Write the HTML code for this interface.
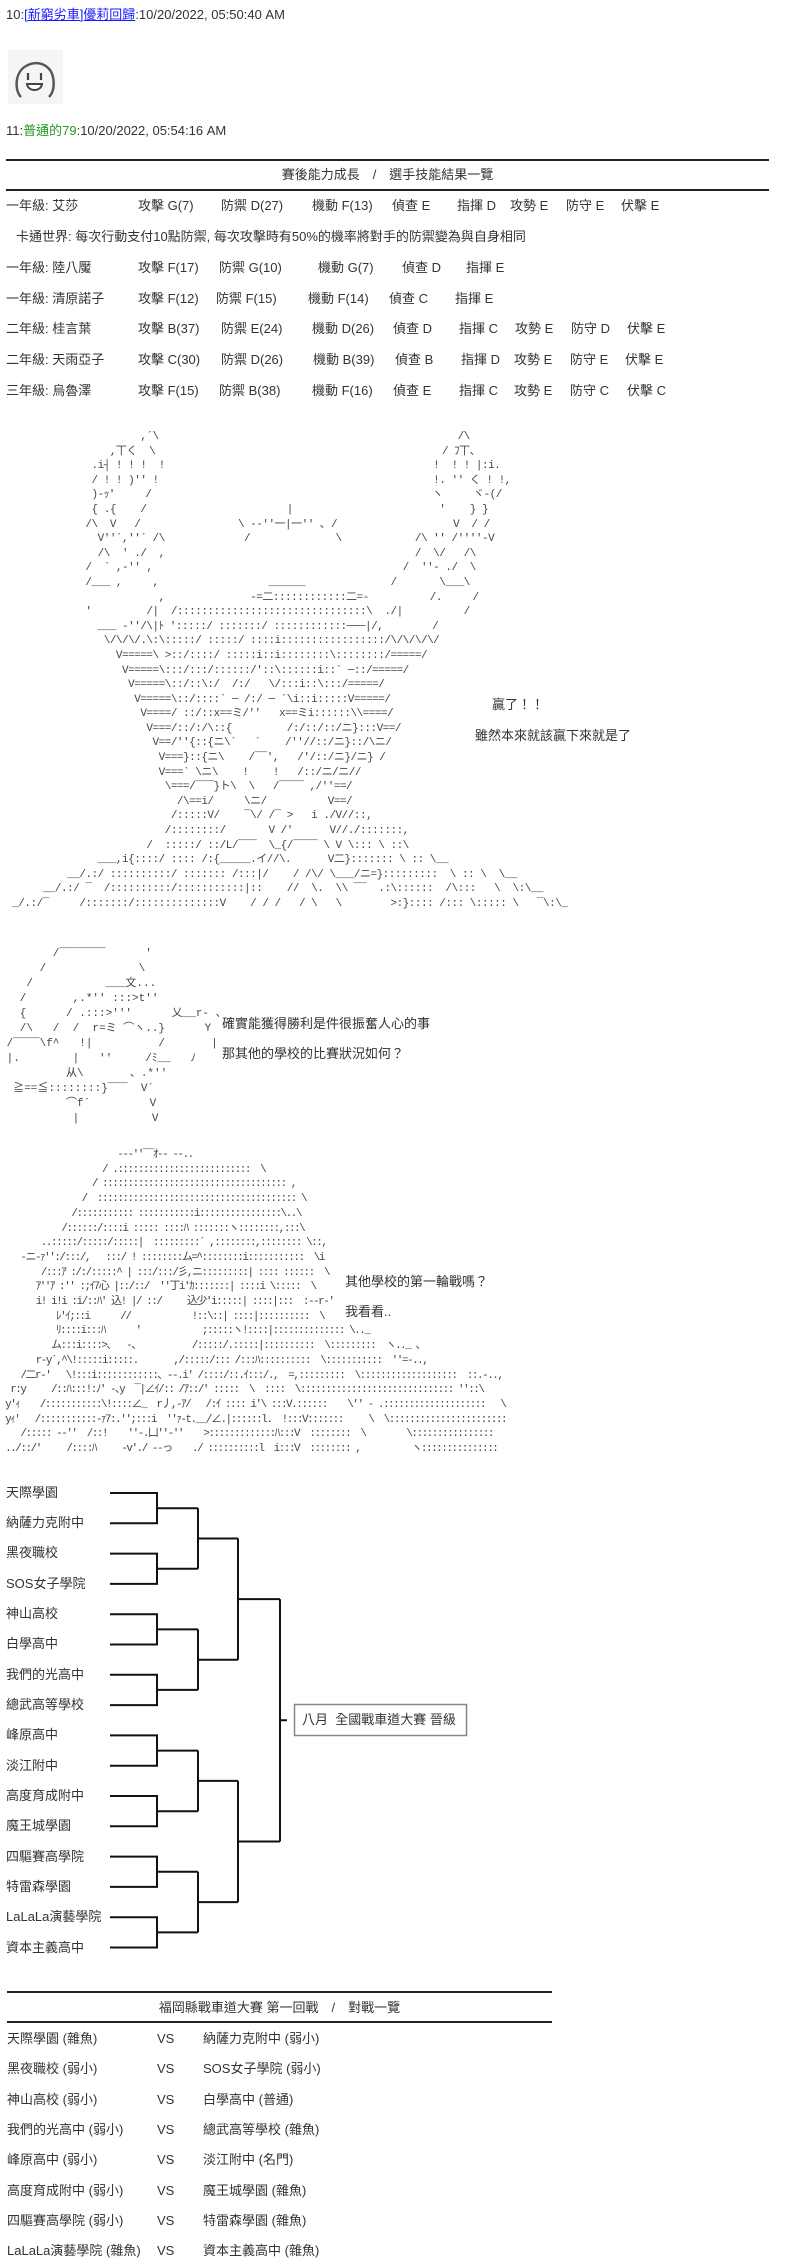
<!DOCTYPE html>
<html><head><meta charset="utf-8">
<style>
html,body{margin:0;padding:0;background:#fff;}
body{width:800px;height:2256px;position:relative;overflow:hidden;font-family:"Liberation Sans","Noto Sans CJK TC",sans-serif;font-size:13px;color:#333;}
.t{position:absolute;white-space:nowrap;line-height:16px;}
.rule{position:absolute;height:2px;background:#222;}
pre{position:absolute;margin:0;font-family:"Liberation Mono","Noto Sans CJK JP",monospace;font-size:11px;color:#444;}
</style></head><body>

<div class="t" style="left:6px;top:7px;">10:<span style="color:#1a1aff;text-decoration:underline;">[新窮劣車]優莉回歸</span>:10/20/2022, 05:50:40 AM</div>

<svg style="position:absolute;left:8px;top:50px" width="55" height="54" viewBox="0 0 55 54">
<rect width="55" height="54" fill="#f5f5f5"/>
<path d="M13 47 C6 40 7 22 18 16 C25 12 33 12 39 17 C47 23 48 40 41 47" fill="none" stroke="#555" stroke-width="2.4"/>
<line x1="20" y1="23" x2="20" y2="30" stroke="#444" stroke-width="2.2"/>
<line x1="33" y1="23" x2="33" y2="30" stroke="#444" stroke-width="2.2"/>
<path d="M19 34 H34 C33 42 20 42 19 34 Z" fill="#fff" stroke="#444" stroke-width="2"/>
</svg>

<div class="t" style="left:6px;top:123px;">11:<span style="color:#229922;">普通的79</span>:10/20/2022, 05:54:16 AM</div>

<div class="rule" style="left:6px;width:763px;top:159px;"></div>
<div class="t" style="left:6px;width:763px;text-align:center;top:167px;">賽後能力成長　/　選手技能結果一覽</div>
<div class="rule" style="left:6px;width:763px;top:189px;"></div>

<div class="t" style="left:6px;top:198px;">一年級: 艾莎</div>
<div class="t" style="left:138px;top:198px;">攻擊 G(7)</div>
<div class="t" style="left:221px;top:198px;">防禦 D(27)</div>
<div class="t" style="left:312px;top:198px;">機動 F(13)</div>
<div class="t" style="left:392px;top:198px;">偵查 E</div>
<div class="t" style="left:457px;top:198px;">指揮 D</div>
<div class="t" style="left:510px;top:198px;">攻勢 E</div>
<div class="t" style="left:566px;top:198px;">防守 E</div>
<div class="t" style="left:621px;top:198px;">伏擊 E</div>

<div class="t" style="left:16px;top:229px;">卡通世界: 每次行動支付10點防禦, 每次攻擊時有50%的機率將對手的防禦變為與自身相同</div>

<div class="t" style="left:6px;top:260px;">一年級: 陸八魘</div>
<div class="t" style="left:138px;top:260px;">攻擊 F(17)</div>
<div class="t" style="left:219px;top:260px;">防禦 G(10)</div>
<div class="t" style="left:318px;top:260px;">機動 G(7)</div>
<div class="t" style="left:402px;top:260px;">偵查 D</div>
<div class="t" style="left:466px;top:260px;">指揮 E</div>

<div class="t" style="left:6px;top:291px;">一年級: 清原諾子</div>
<div class="t" style="left:138px;top:291px;">攻擊 F(12)</div>
<div class="t" style="left:216px;top:291px;">防禦 F(15)</div>
<div class="t" style="left:308px;top:291px;">機動 F(14)</div>
<div class="t" style="left:389px;top:291px;">偵查 C</div>
<div class="t" style="left:455px;top:291px;">指揮 E</div>

<div class="t" style="left:6px;top:321px;">二年級: 桂言葉</div>
<div class="t" style="left:138px;top:321px;">攻擊 B(37)</div>
<div class="t" style="left:221px;top:321px;">防禦 E(24)</div>
<div class="t" style="left:312px;top:321px;">機動 D(26)</div>
<div class="t" style="left:393px;top:321px;">偵查 D</div>
<div class="t" style="left:459px;top:321px;">指揮 C</div>
<div class="t" style="left:515px;top:321px;">攻勢 E</div>
<div class="t" style="left:571px;top:321px;">防守 D</div>
<div class="t" style="left:627px;top:321px;">伏擊 E</div>

<div class="t" style="left:6px;top:352px;">二年級: 天雨亞子</div>
<div class="t" style="left:138px;top:352px;">攻擊 C(30)</div>
<div class="t" style="left:221px;top:352px;">防禦 D(26)</div>
<div class="t" style="left:313px;top:352px;">機動 B(39)</div>
<div class="t" style="left:395px;top:352px;">偵查 B</div>
<div class="t" style="left:461px;top:352px;">指揮 D</div>
<div class="t" style="left:514px;top:352px;">攻勢 E</div>
<div class="t" style="left:570px;top:352px;">防守 E</div>
<div class="t" style="left:625px;top:352px;">伏擊 E</div>

<div class="t" style="left:6px;top:383px;">三年級: 烏魯澤</div>
<div class="t" style="left:138px;top:383px;">攻擊 F(15)</div>
<div class="t" style="left:219px;top:383px;">防禦 B(38)</div>
<div class="t" style="left:312px;top:383px;">機動 F(16)</div>
<div class="t" style="left:393px;top:383px;">偵查 E</div>
<div class="t" style="left:459px;top:383px;">指揮 C</div>
<div class="t" style="left:514px;top:383px;">攻勢 E</div>
<div class="t" style="left:570px;top:383px;">防守 C</div>
<div class="t" style="left:627px;top:383px;">伏擊 C</div>

<pre style="left:0;top:430px;line-height:14.6px;letter-spacing:-0.5px;">                       ,´\                                                 /\
                  ,丅く  \                                               / ﾌ丅、
               .i┤ ! ! !  !                                            !  ! ! |:i.
               / ! ! )'' !                                             !. '' く ! !,
               )-ｯ'     /                                              ヽ     ヾ-(/
               { .{    /                       |                        '    } }
              /\  V   /                \ -‐''一|一'' ､ /                   V  / /
                V''´,''´ /\             /              \            /\ '' /''''-V
                /\  ' ./  ,                                         /  \/   /\
              /  ` ,-'' ,                                         /  ''- ./  \
              /___ ,     ,                  ______              /       \___\
                          ,              -=二::::::::::::二=-          /.     /
              '         /|  /:::::::::::::::::::::::::::::::\  ./|          /
                ___ -''/\|ﾄ ':::::/ :::::::/ ::::::::::::───|/,        /
                 \/\/\/.\:\:::::/ :::::/ ::::i:::::::::::::::::/\/\/\/\/
                   V=====\ >::/::::/ :::::i::i::::::::\::::::::/=====/
                    V=====\:::/:::/::::::/'::\::::::i::` ─::/=====/
                     V=====\::/::\:/  /:/   \/:::i::\:::/=====/
                      V=====\::/::::` ─ /:/ ─ ´\i::i:::::V=====/
                       V====/ ::/::x==ミ/''   x==ミi::::::\\====/
                        V===/::/:/\::{         /:/::/::/ニ}:::V==/
                         V==/''{::{ニ\`   ´    /''//::/ニ}::/\ニ/
                          V===}::{ニ\    /‾‾',   /'/::/ニ}/ニ} /
                          V===` \ニ\    !    !   /::/ニ/ニ//
                           \===/‾‾‾}ト\  \   /‾‾‾‾ ,/''==/
                             /\==i/     \ニ/          V==/
                            /:::::V/    ‾\/ /‾ >   i ./V//::,
                           /::::::::/       V /'      V//./:::::::,
                        /  :::::/ ::/L/‾‾‾  \_{/‾‾‾‾ \ V \::: \ ::\
                ___,i{::::/ :::: /:{_____.イ//\.      V二}::::::: \ :: \__
           __/.:/ ::::::::::/ ::::::: /:::|/    / /\/ \___/ニ=}:::::::::  \ :: \  \__
       __/.:/ ‾  /::::::::::/:::::::::::|::    //  \.  \\ ‾‾  .:\::::::  /\:::   \  \:\__
  _/.:/‾     /:::::::/::::::::::::::V    / / /   / \   \        >:}:::: /::: \::::: \   ‾\:\_</pre>

<div class="t" style="left:492px;top:697px;">贏了！！</div>
<div class="t" style="left:475px;top:728px;">雖然本來就該贏下來就是了</div>

<pre style="left:0;top:947px;line-height:15px;">        /‾‾‾‾‾‾‾      '
      /              \
    /           ___文...
   /       ,.*'' :::>t''
   {      / .:::>'''      乂__r‐ 、
   /\   /  /  r=ミ ⌒ヽ..}      Y
 /‾‾‾‾\f^   !|          /       |
 |.        |   ''     /ﾐ__   ﾉ
          从\       、.*''
  ≧==≦::::::::}‾‾‾  V´
          ⌒f´         V
           |           V</pre>
<div class="t" style="left:222px;top:1016px;">確實能獲得勝利是件很振奮人心的事</div>
<div class="t" style="left:222px;top:1046px;">那其他的學校的比賽狀況如何？</div>

<pre style="left:0;top:1148px;line-height:14.7px;letter-spacing:-1.5px;">                       ‐-‐''‾‾ｵ‐‐ ‐-..
                    / .::::::::::::::::::::::::::  \
                  / :::::::::::::::::::::::::::::::::::: ,
                /  ::::::::::::::::::::::::::::::::::::::: \
              /::::::::::: :::::::::::i::::::::::::::::\..\
            /::::::/::::i ::::: ::::ﾊ :::::::ヽ::::::::,:::\
        ..:::::/:::::/:::::|  :::::::::´ ,::::::::,:::::::: \::,
    ‐ニ‐ｧ'':/:::/,   :::/ ! ::::::::ム=^::::::::i:::::::::::  \i
        /:::ｱ :/:/:::::^ | :::/:::/彡,ニ:::::::::| :::: ::::::  \
       ｱ''ｱ :'' :;ｲ7心 |::/::/  ''丁i'ｶ:::::::| ::::i \:::::  \
       i! i!i :i/::ﾊ' 込! |/ ::/     込少'i:::::| ::::|:::  :--r‐'
           ﾚ'ｲ;::i      //            !::\::| ::::|::::::::::  \
           ﾘ::::i:::ﾊ      '            ;:::::ヽ!::::|:::::::::::::: \.._
          ム:::i::::>、  ‐、          /:::::/.:::::|::::::::::  \:::::::::  ヽ.._ 、
       r‐y´,^\!:::::i:::::.       ,/:::::/::: /:::ﾊ::::::::::  \:::::::::::  ''=‐..,
    /二r‐'   \!:::i::::::::::::、‐-.i' /::::/::.ｲ:::/.,  =,:::::::::  \:::::::::::::::::::  ::.‐..,
  r:y     /::ﾊ:::!:ﾉ' ‐､y  ‾|∠ｲ/:: /ｱ::/' :::::  \  ::::  \:::::::::::::::::::::::::::::: ''::\
 y'ｨ    /:::::::::::\!::::∠_  r丿,‐ｱ/   /:ｲ :::: i'\ :::V.::::::    \'' ‐ .::::::::::::::::::::   \
 yｨ'   /:::::::::::‐ｧ7:.'';:::i  ''ｧ‐t.__/∠.|::::::l.  !:::V:::::::     \  \:::::::::::::::::::::::
    /::::: ‐‐''  /::!    ''‐.凵''‐''    >:::::::::::::ﾊ:::V  ::::::::  \        \::::::::::::::::
 ../::/'     /::::ﾊ     ‐v'./ ‐‐っ    ./ ::::::::::l  i:::V  :::::::: ,          ヽ:::::::::::::::</pre>
<div class="t" style="left:345px;top:1274px;">其他學校的第一輪戰嗎？</div>
<div class="t" style="left:345px;top:1304px;">我看看..</div>

<div class="t" style="left:6px;top:1485px;">天際學園</div>
<div class="t" style="left:6px;top:1515px;">納薩力克附中</div>
<div class="t" style="left:6px;top:1545px;">黑夜職校</div>
<div class="t" style="left:6px;top:1576px;">SOS女子學院</div>
<div class="t" style="left:6px;top:1606px;">神山高校</div>
<div class="t" style="left:6px;top:1636px;">白學高中</div>
<div class="t" style="left:6px;top:1667px;">我們的光高中</div>
<div class="t" style="left:6px;top:1697px;">總武高等學校</div>
<div class="t" style="left:6px;top:1727px;">峰原高中</div>
<div class="t" style="left:6px;top:1758px;">淡江附中</div>
<div class="t" style="left:6px;top:1788px;">高度育成附中</div>
<div class="t" style="left:6px;top:1818px;">魔王城學園</div>
<div class="t" style="left:6px;top:1849px;">四驅賽高學院</div>
<div class="t" style="left:6px;top:1879px;">特雷森學園</div>
<div class="t" style="left:6px;top:1909px;">LaLaLa演藝學院</div>
<div class="t" style="left:6px;top:1940px;">資本主義高中</div>

<svg style="position:absolute;left:0;top:0" width="800" height="2256">
<g fill="none" stroke="#111" stroke-width="2">
<path d="M110 1493H157V1523.3H110 M110 1553.6H157V1583.9H110 M110 1614.2H157V1644.5H110 M110 1674.8H157V1705.1H110 M110 1735.4H157V1765.7H110 M110 1796H157V1826.3H110 M110 1856.6H157V1886.9H110 M110 1917.2H157V1947.5H110"/>
<path d="M157 1508.2H198 M157 1568.8H198 M157 1629.4H198 M157 1689.9H198 M157 1750.6H198 M157 1811.2H198 M157 1871.8H198 M157 1932.4H198"/>
<path d="M198 1508.2V1568.8 M198 1629.4V1689.9 M198 1750.6V1811.2 M198 1871.8V1932.4"/>
<path d="M198 1538.5H238 M198 1659.7H238 M198 1780.9H238 M198 1902.1H238"/>
<path d="M238 1538.5V1659.7 M238 1780.9V1902.1 M238 1599.1H280 M238 1841.5H280 M280 1599.1V1841.5 M280 1720.3H287"/>
</g>
<rect x="294.5" y="1704.5" width="172" height="31" fill="none" stroke="#888" stroke-width="1.5"/>
</svg>
<div class="t" style="left:302px;top:1712px;">八月&nbsp; 全國戰車道大賽 晉級</div>

<div class="rule" style="left:7px;width:545px;top:1991px;"></div>
<div class="t" style="left:7px;width:545px;text-align:center;top:2000px;">福岡縣戰車道大賽 第一回戰　/　對戰一覽</div>
<div class="rule" style="left:7px;width:545px;top:2021px;"></div>

<div class="t" style="left:7px;top:2031px;">天際學園 (雜魚)</div><div class="t" style="left:157px;top:2031px;">VS</div><div class="t" style="left:203px;top:2031px;">納薩力克附中 (弱小)</div>
<div class="t" style="left:7px;top:2061px;">黑夜職校 (弱小)</div><div class="t" style="left:157px;top:2061px;">VS</div><div class="t" style="left:203px;top:2061px;">SOS女子學院 (弱小)</div>
<div class="t" style="left:7px;top:2092px;">神山高校 (弱小)</div><div class="t" style="left:157px;top:2092px;">VS</div><div class="t" style="left:203px;top:2092px;">白學高中 (普通)</div>
<div class="t" style="left:7px;top:2122px;">我們的光高中 (弱小)</div><div class="t" style="left:157px;top:2122px;">VS</div><div class="t" style="left:203px;top:2122px;">總武高等學校 (雜魚)</div>
<div class="t" style="left:7px;top:2152px;">峰原高中 (弱小)</div><div class="t" style="left:157px;top:2152px;">VS</div><div class="t" style="left:203px;top:2152px;">淡江附中 (名門)</div>
<div class="t" style="left:7px;top:2183px;">高度育成附中 (弱小)</div><div class="t" style="left:157px;top:2183px;">VS</div><div class="t" style="left:203px;top:2183px;">魔王城學園 (雜魚)</div>
<div class="t" style="left:7px;top:2213px;">四驅賽高學院 (弱小)</div><div class="t" style="left:157px;top:2213px;">VS</div><div class="t" style="left:203px;top:2213px;">特雷森學園 (雜魚)</div>
<div class="t" style="left:7px;top:2243px;">LaLaLa演藝學院 (雜魚)</div><div class="t" style="left:157px;top:2243px;">VS</div><div class="t" style="left:203px;top:2243px;">資本主義高中 (雜魚)</div>

</body></html>
